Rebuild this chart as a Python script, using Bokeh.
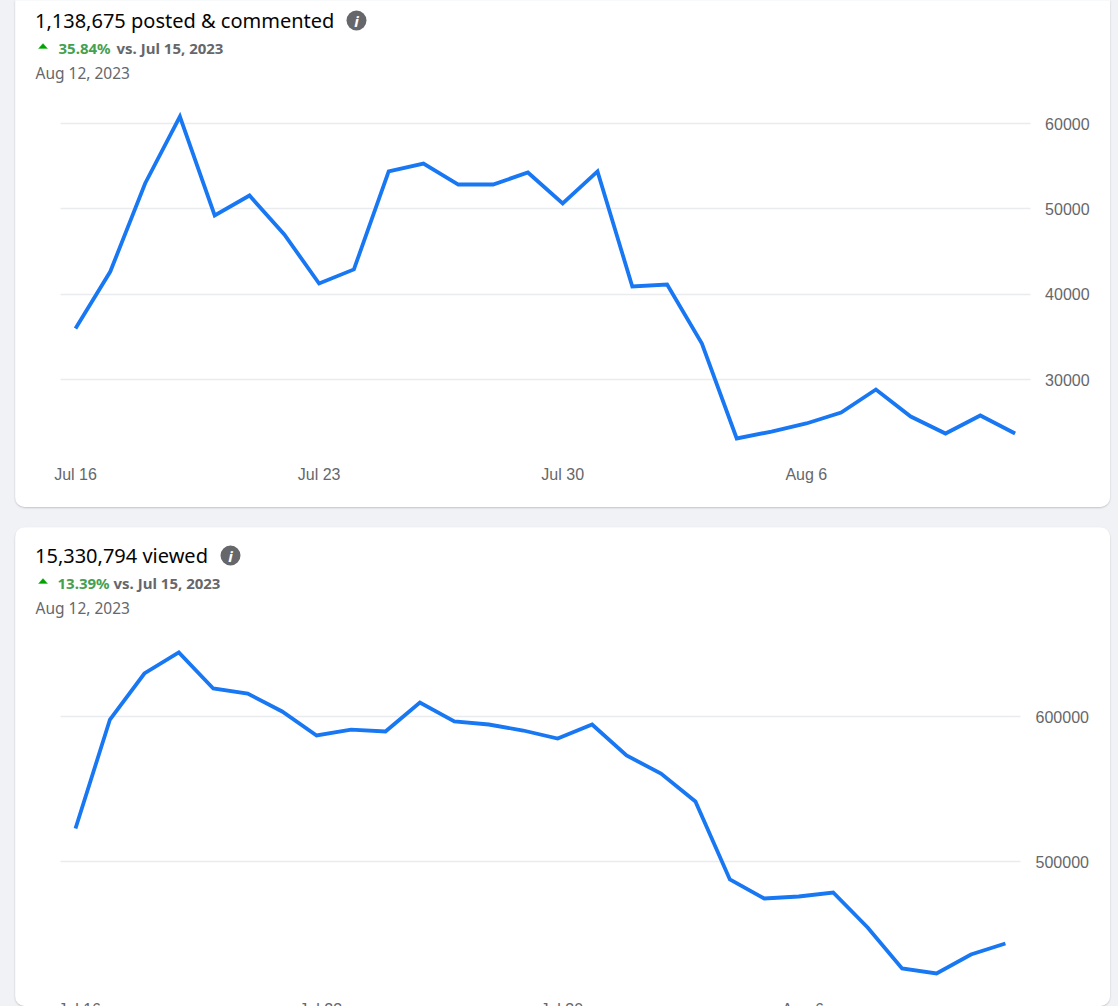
from bokeh.embed import file_html
from bokeh.models import (ColumnDataSource, FixedTicker, GlobalInlineStyleSheet, Grid,
                          Label, LinearAxis, PolyAnnotation, BoxAnnotation, Range1d)
from bokeh.plotting import figure
from bokeh.resources import INLINE

days = list(range(28))
tick_days = [0, 7, 14, 21]
tick_labels = ["Jul 16", "Jul 23", "Jul 30", "Aug 6"]

posted = [35980, 42650, 52970, 60820, 49220, 51560, 47000, 41250, 42900, 54380, 55300, 52850, 52850, 54260,
          50630, 54380, 40900, 41130, 34220, 23090, 23900, 24850, 26130, 28830, 25660, 23670, 25780, 23670]
posted_ticks = [30000, 40000, 50000, 60000]

viewed = [522760, 597900, 629660, 644140, 619310, 615860, 603450, 586900, 591000, 589660, 609660, 596550, 594480, 590340,
          584830, 594480, 573100, 560690, 541380, 487590, 474480, 475860, 478620, 454480, 426210, 422760, 435860, 443450]
viewed_ticks = [500000, 600000]

GREY = "#65676b"
BLUE = "#1877f2"
GREEN = "#45a04f"
GRID = "#e9ebef"
PAGE = "#f0f2f5"


def card(values, ticks, title, pct, icon_x, pct_x, vs_x, height, top_offset, axis_y, x_range, y_range,
         grid_span, tick_shift, radius, margin, stylesheets):
    p = figure(width=1095, height=height, output_backend="svg", toolbar_location=None,
               x_range=Range1d(*x_range), y_range=Range1d(*y_range), x_axis_type=None, y_axis_type=None,
               min_border=0, border_fill_color="white",
               background_fill_color="white", outline_line_color=None, margin=margin,
               stylesheets=stylesheets,
               styles={"border-radius": radius, "overflow": "hidden",
                       "box-shadow": "0 1px 2px rgba(0,0,0,0.2)"})
    xticks = [d + tick_shift for d in tick_days]
    xax = LinearAxis(ticker=FixedTicker(ticks=xticks), axis_line_color=None, major_tick_line_color=None,
                     minor_tick_line_color=None, major_tick_out=0, major_label_text_color=GREY,
                     major_label_text_font="Liberation Sans", major_label_text_font_size="16px",
                     major_label_standoff=16, fixed_location=axis_y,
                     major_label_overrides=dict(zip(xticks, tick_labels)))
    yax = LinearAxis(ticker=FixedTicker(ticks=ticks), axis_line_color=None, major_tick_line_color=None,
                     minor_tick_line_color=None, major_tick_out=0, major_label_text_color=GREY,
                     major_label_text_font="Liberation Sans", major_label_text_font_size="16px",
                     major_label_standoff=15, fixed_location=grid_span[1])
    yax.formatter.use_scientific = False
    p.add_layout(xax, "below")
    p.add_layout(yax, "right")
    p.add_layout(Grid(dimension=1, ticker=FixedTicker(ticks=ticks), grid_line_color=GRID, grid_line_width=1.6,
                      cross_bounds=grid_span))
    src = ColumnDataSource(dict(day=days, value=values))
    p.line("day", "value", source=src, line_color=BLUE, line_width=3.8, line_join="miter")

    def sy(y):
        return height - (y + top_offset)

    def txt(s, x, cy, size, color, style="normal"):
        p.add_layout(Label(x=x, y=sy(cy), x_units="screen", y_units="screen", text=s,
                           text_font="Noto Sans", text_font_size=size, text_color=color,
                           text_baseline="middle", text_font_style=style))

    txt(title, 19.5, 19.5, "20px", "#050505")
    p.add_layout(BoxAnnotation(left=icon_x - 10, right=icon_x + 10, top=sy(10), bottom=sy(30),
                               left_units="screen", right_units="screen", top_units="screen", bottom_units="screen",
                               fill_color=GREY, fill_alpha=1, line_color=None, border_radius=10))
    p.add_layout(Label(x=icon_x, y=sy(20), x_units="screen", y_units="screen", text="i",
                       text_font="Noto Sans", text_font_size="15px", text_font_style="bold italic",
                       text_color="white", text_align="center", text_baseline="middle"))
    p.add_layout(PolyAnnotation(xs=[23, 27.5, 32], ys=[sy(48), sy(43), sy(48)],
                                xs_units="screen", ys_units="screen", fill_color="#00a400", fill_alpha=1,
                                line_color="#00a400", line_width=1))
    txt(pct, pct_x, 47, "15px", GREEN, "bold")
    txt("vs. Jul 15, 2023", vs_x, 47, "15px", GREY, "bold")
    txt("Aug 12, 2023", 20, 72, "15.5px", GREY)
    return p


sheet = GlobalInlineStyleSheet(css=f"html,body{{margin:0;padding:0;background:{PAGE};overflow:hidden}}")
top_card = card(posted, posted_ticks, "1,138,675 posted & commented", "35.84%", 341, 43, 101,
                507, 0, 21680, (-1.724, 29.741), (15000, 74415), (-0.431, 27.431), 0.0, "0 0 10px 10px",
                (0, 0, 20, 15), [sheet])
bottom_card = card(viewed, viewed_ticks, "15,330,794 viewed", "13.39%", 215, 42, 98,
                   479, 8, 414483, (-1.742, 30.052), (400000, 730345), (-0.4355, 27.44), 0.12, "10px",
                   (0, 0, 0, 15), [sheet])

open("out.html", "w").write(file_html([top_card, bottom_card], INLINE))
